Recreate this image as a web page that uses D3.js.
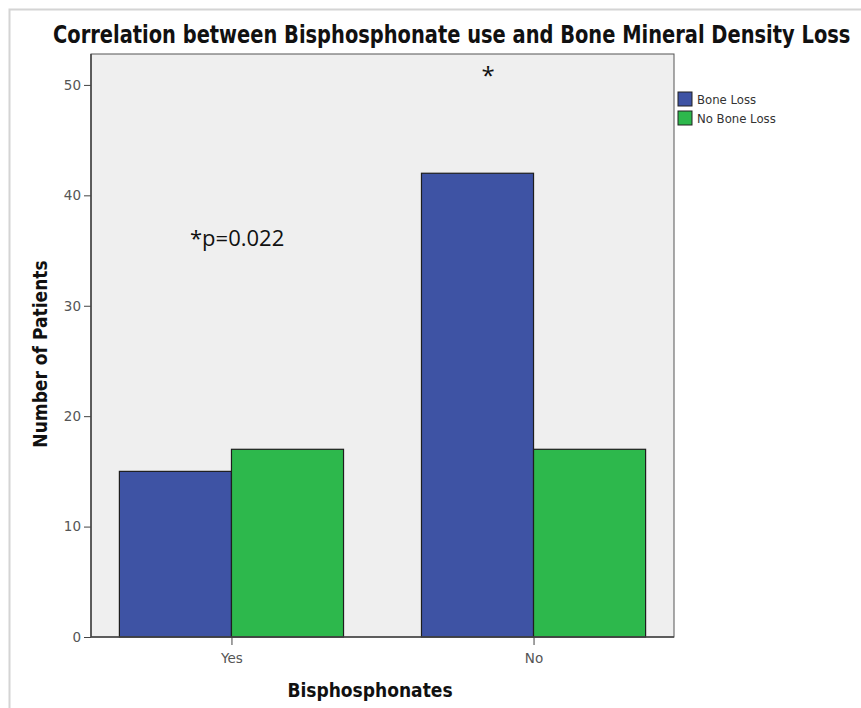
<!DOCTYPE html>
<html lang="en">
  <head>
    <meta charset="UTF-8" />
    <title>Bisphosphonate use and Bone Mineral Density Loss</title>
    <script src="https://d3js.org/d3.v7.min.js"></script>
    <style>
      body { margin: 0; background: #fff; }
      .tick text { fill: #555; font-size: 13.5px; font-family: 'DejaVu Sans', sans-serif; }
      .tick line, .domain { stroke: #444; }
    </style>
  </head>
  <body>
    <div id="chart"></div>
    <script>
      // data
      const categories = ['Yes', 'No'];
      const series = ['Bone Loss', 'No Bone Loss'];
      const boneLoss = [15, 42];
      const noBoneLoss = [17, 17];
      const yTicks = [0, 10, 20, 30, 40, 50];
      const colors = ['#3e53a4', '#2db84c'];

      const W = 861, H = 708;
      const plot = { left: 91, right: 674, top: 54, bottom: 637 };

      const svg = d3.select('#chart').append('svg')
        .attr('width', W).attr('height', H);

      // outer frame (only top and left edge visible)
      svg.append('path')
        .attr('d', `M9.5,${H} V9.5 H${W}`)
        .attr('fill', 'none').attr('stroke', '#d4d4d4').attr('stroke-width', 2);

      const rows = categories.map((c, i) => ({ cat: c, values: [boneLoss[i], noBoneLoss[i]] }));

      const x = d3.scaleBand().domain(categories)
        .range([plot.left, plot.right]).paddingInner(0.258).paddingOuter(0.094);
      const xs = d3.scaleBand().domain(series).range([0, x.bandwidth()]).padding(0);
      const y = d3.scaleLinear().domain([0, 52.8]).range([plot.bottom, plot.top]);

      // plot background
      svg.append('rect')
        .attr('x', plot.left).attr('y', plot.top)
        .attr('width', plot.right - plot.left).attr('height', plot.bottom - plot.top)
        .attr('fill', '#efefef').attr('stroke', '#555').attr('stroke-width', 1);

      // bars
      const groups = svg.selectAll('g.grp').data(rows).enter().append('g')
        .attr('class', 'grp')
        .attr('transform', d => `translate(${x(d.cat)},0)`);
      groups.selectAll('rect')
        .data(d => d.values.map((v, j) => ({ s: series[j], v: v, j: j })))
        .enter().append('rect')
        .attr('x', d => xs(d.s))
        .attr('y', d => y(d.v))
        .attr('width', xs.bandwidth())
        .attr('height', d => y(0) - y(d.v))
        .attr('fill', d => colors[d.j])
        .attr('stroke', '#1e1e1e').attr('stroke-width', 1.2);

      // axes
      svg.append('g')
        .attr('transform', `translate(${plot.left},0)`)
        .call(d3.axisLeft(y).tickValues(yTicks).tickSize(7).tickPadding(3))
        .call(g => g.select('.domain').attr('d', `M0,${plot.top}V${plot.bottom}`).attr('stroke-width', 1.5));

      const xAxis = d3.axisBottom(d3.scalePoint().domain(categories)
        .range([x('Yes') + x.bandwidth() / 2, x('No') + x.bandwidth() / 2]))
        .tickSize(8).tickPadding(8);
      svg.append('g')
        .attr('transform', `translate(0,${plot.bottom})`)
        .call(xAxis)
        .call(g => g.select('.domain').remove());
      svg.append('line')
        .attr('x1', plot.left).attr('x2', plot.right)
        .attr('y1', plot.bottom).attr('y2', plot.bottom)
        .attr('stroke', '#444').attr('stroke-width', 1.5);

      // titles (condensed horizontally to the reference width)
      const title = svg.append('text')
        .style('font-family', "'DejaVu Sans Condensed', 'DejaVu Sans', sans-serif")
        .style('font-weight', 'bold').style('font-size', '24px').attr('fill', '#111')
        .text('Correlation between Bisphosphonate use and Bone Mineral Density Loss');
      const tl = title.node().getComputedTextLength();
      title.attr('transform', `translate(53,43) scale(${Math.min(1, 798 / tl)},1)`);

      svg.append('text')
        .attr('transform', 'translate(47,354) rotate(-90)')
        .attr('text-anchor', 'middle')
        .style('font-family', "'DejaVu Sans Condensed', 'DejaVu Sans', sans-serif")
        .style('font-weight', 'bold').style('font-size', '19px').attr('fill', '#111')
        .text('Number of Patients');

      svg.append('text')
        .attr('x', 370).attr('y', 697)
        .attr('text-anchor', 'middle')
        .style('font-family', "'DejaVu Sans Condensed', 'DejaVu Sans', sans-serif")
        .style('font-weight', 'bold').style('font-size', '19px').attr('fill', '#111')
        .text('Bisphosphonates');

      // annotations
      svg.append('text')
        .attr('x', 190).attr('y', 246)
        .style('font-family', "'Open Sans', sans-serif").style('font-size', '22px')
        .attr('fill', '#111')
        .text('*p=0.022');
      svg.append('text')
        .attr('x', 488).attr('y', 84)
        .attr('text-anchor', 'middle')
        .style('font-family', "'Open Sans', sans-serif").style('font-size', '24px')
        .attr('fill', '#111')
        .text('*');

      // legend
      const legend = svg.selectAll('g.leg').data(series).enter().append('g')
        .attr('class', 'leg')
        .attr('transform', (d, i) => `translate(678,${92 + i * 19})`);
      legend.append('rect')
        .attr('width', 14).attr('height', 14)
        .attr('fill', (d, i) => colors[i])
        .attr('stroke', '#222').attr('stroke-width', 1);
      legend.append('text')
        .attr('x', 19).attr('y', 11.5)
        .style('font-family', "'DejaVu Sans Condensed', 'DejaVu Sans', sans-serif")
        .style('font-size', '13px').attr('fill', '#333')
        .text(d => d);
    </script>
  </body>
</html>
